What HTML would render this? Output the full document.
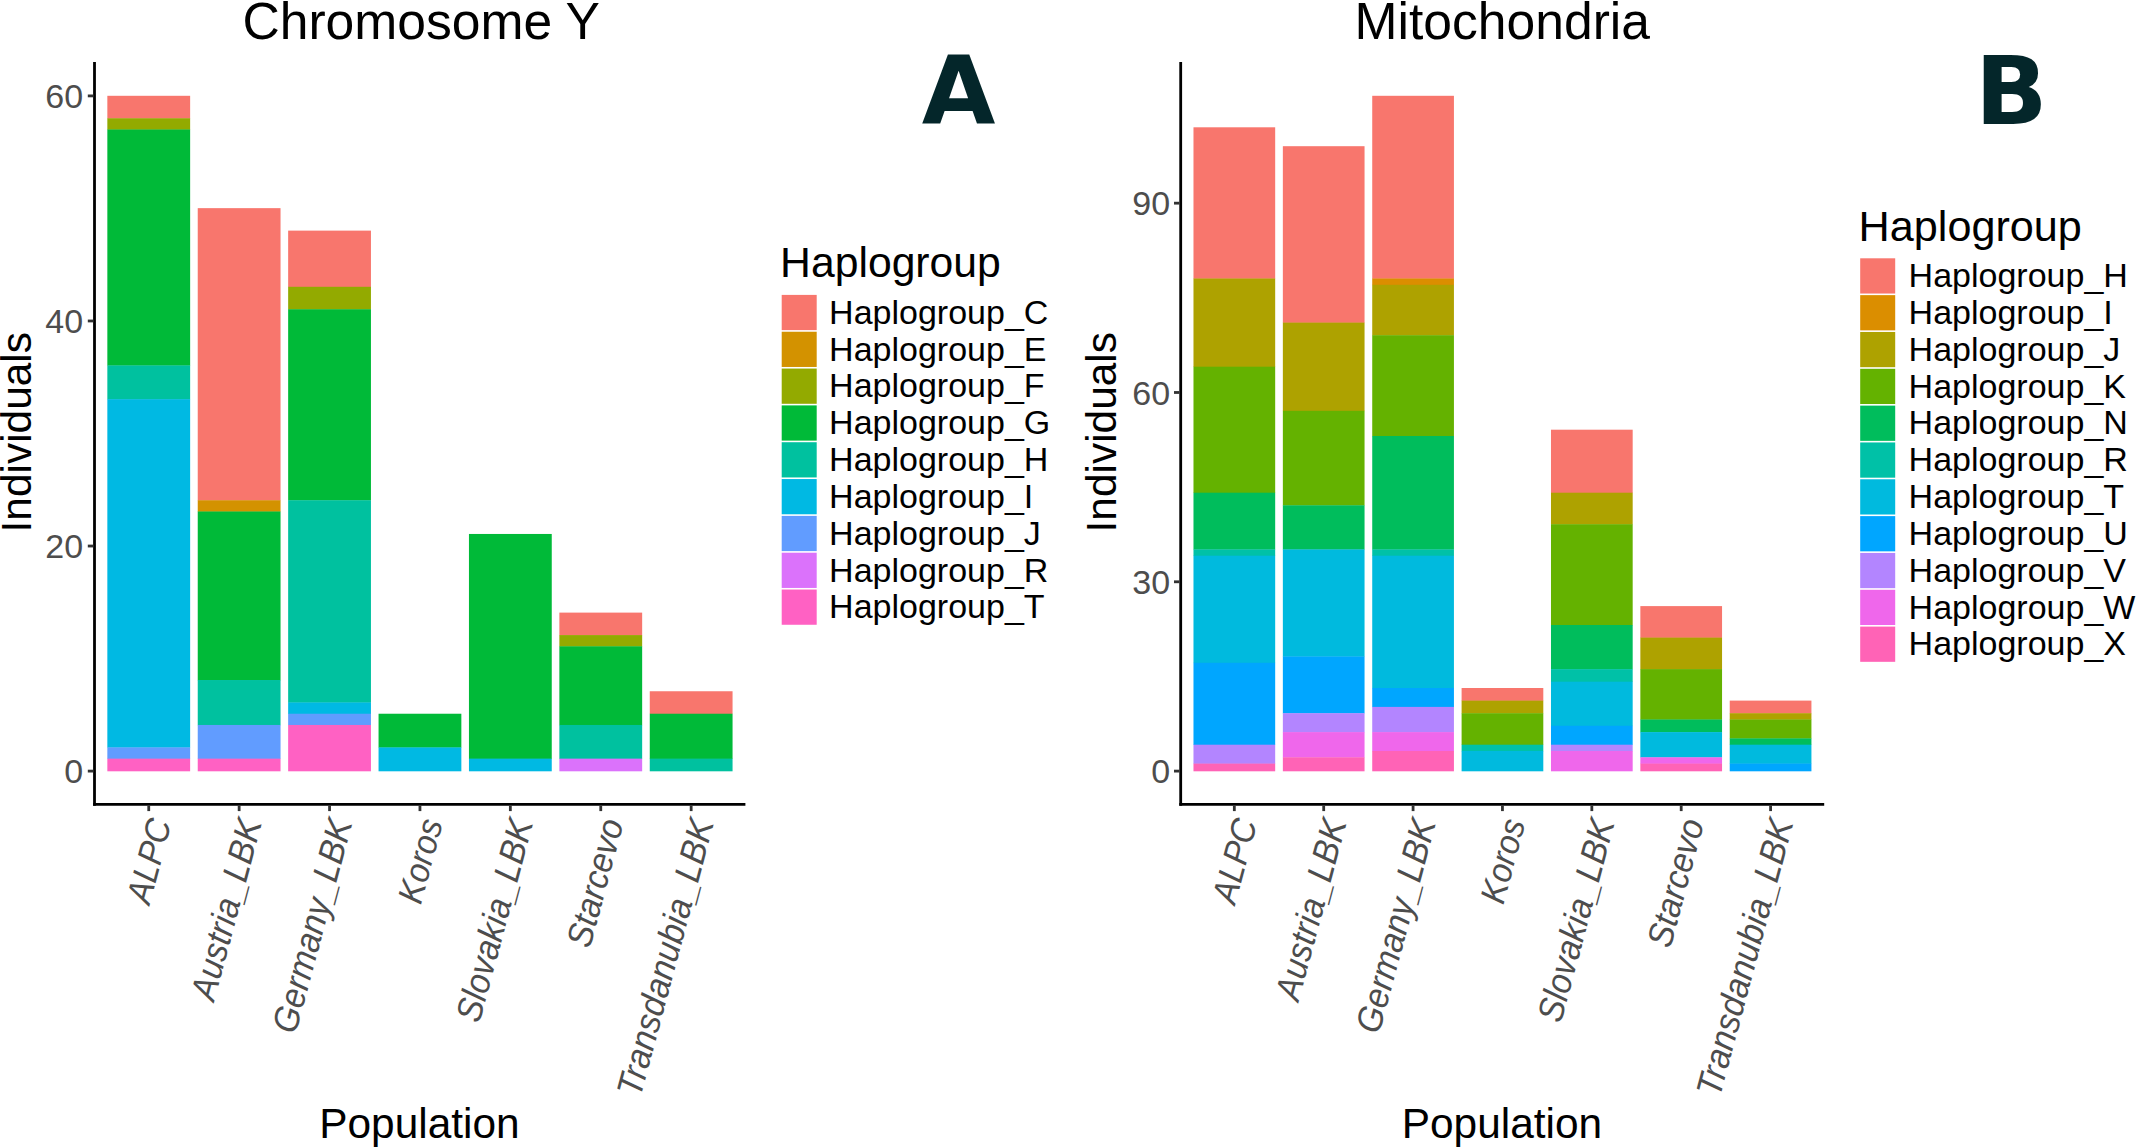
<!DOCTYPE html>
<html lang="en">
<head>
<meta charset="utf-8">
<title>Haplogroup distribution – Chromosome Y and Mitochondria</title>
<style>
html,body{margin:0;padding:0;background:#fff;}
body{width:2136px;height:1147px;overflow:hidden;}
svg{display:block;font-family:"Liberation Sans", "DejaVu Sans", sans-serif;}
</style>
</head>
<body>
<svg width="2136" height="1147" viewBox="0 0 2136 1147">
<rect width="2136" height="1147" fill="#ffffff"/>
<g>
<rect x="107.34" y="95.80" width="82.80" height="22.77" fill="#F8766D"/>
<rect x="107.34" y="118.27" width="82.80" height="11.54" fill="#93AA00"/>
<rect x="107.34" y="129.50" width="82.80" height="236.24" fill="#00BA38"/>
<rect x="107.34" y="365.44" width="82.80" height="34.00" fill="#00C19F"/>
<rect x="107.34" y="399.14" width="82.80" height="348.59" fill="#00B9E3"/>
<rect x="107.34" y="747.43" width="82.80" height="11.54" fill="#619CFF"/>
<rect x="107.34" y="758.66" width="82.80" height="12.64" fill="#FF61C3"/>
<rect x="197.74" y="208.15" width="82.80" height="292.41" fill="#F8766D"/>
<rect x="197.74" y="500.26" width="82.80" height="11.54" fill="#D39200"/>
<rect x="197.74" y="511.49" width="82.80" height="168.83" fill="#00BA38"/>
<rect x="197.74" y="680.02" width="82.80" height="45.24" fill="#00C19F"/>
<rect x="197.74" y="724.96" width="82.80" height="34.01" fill="#619CFF"/>
<rect x="197.74" y="758.66" width="82.80" height="12.64" fill="#FF61C3"/>
<rect x="288.15" y="230.62" width="82.80" height="56.48" fill="#F8766D"/>
<rect x="288.15" y="286.79" width="82.80" height="22.77" fill="#93AA00"/>
<rect x="288.15" y="309.26" width="82.80" height="191.30" fill="#00BA38"/>
<rect x="288.15" y="500.26" width="82.80" height="202.53" fill="#00C19F"/>
<rect x="288.15" y="702.49" width="82.80" height="11.54" fill="#00B9E3"/>
<rect x="288.15" y="713.73" width="82.80" height="11.53" fill="#619CFF"/>
<rect x="288.15" y="724.96" width="82.80" height="46.34" fill="#FF61C3"/>
<rect x="378.55" y="713.73" width="82.80" height="34.00" fill="#00BA38"/>
<rect x="378.55" y="747.43" width="82.80" height="23.87" fill="#00B9E3"/>
<rect x="468.95" y="533.96" width="82.80" height="225.00" fill="#00BA38"/>
<rect x="468.95" y="758.66" width="82.80" height="12.64" fill="#00B9E3"/>
<rect x="559.36" y="612.61" width="82.80" height="22.77" fill="#F8766D"/>
<rect x="559.36" y="635.08" width="82.80" height="11.54" fill="#93AA00"/>
<rect x="559.36" y="646.31" width="82.80" height="78.94" fill="#00BA38"/>
<rect x="559.36" y="724.96" width="82.80" height="34.01" fill="#00C19F"/>
<rect x="559.36" y="758.66" width="82.80" height="12.64" fill="#DB72FB"/>
<rect x="649.76" y="691.25" width="82.80" height="22.77" fill="#F8766D"/>
<rect x="649.76" y="713.73" width="82.80" height="45.24" fill="#00BA38"/>
<rect x="649.76" y="758.66" width="82.80" height="12.64" fill="#00C19F"/>
<path d="M94.50 62.10V805.80" stroke="#000" stroke-width="2.8" fill="none"/>
<path d="M93.10 804.40H745.40" stroke="#000" stroke-width="2.8" fill="none"/>
<path d="M87.80 771.10H93.40" stroke="#333333" stroke-width="2.8"/>
<text x="83.20" y="783.27" text-anchor="end" font-size="34.0" fill="#4D4D4D">0</text>
<path d="M87.80 546.03H93.40" stroke="#333333" stroke-width="2.8"/>
<text x="83.20" y="558.21" text-anchor="end" font-size="34.0" fill="#4D4D4D">20</text>
<path d="M87.80 320.97H93.40" stroke="#333333" stroke-width="2.8"/>
<text x="83.20" y="333.14" text-anchor="end" font-size="34.0" fill="#4D4D4D">40</text>
<path d="M87.80 95.90H93.40" stroke="#333333" stroke-width="2.8"/>
<text x="83.20" y="108.07" text-anchor="end" font-size="34.0" fill="#4D4D4D">60</text>
<path d="M148.74 805.50V811.10" stroke="#333333" stroke-width="2.8"/>
<text transform="translate(148.34,816.30) rotate(-75) scale(1,1.07)" x="0" y="22.60" text-anchor="end" font-size="32.85" font-style="italic" fill="#4D4D4D">ALPC</text>
<path d="M239.14 805.50V811.10" stroke="#333333" stroke-width="2.8"/>
<text transform="translate(238.74,816.30) rotate(-75) scale(1,1.07)" x="0" y="22.60" text-anchor="end" font-size="33.46" font-style="italic" fill="#4D4D4D">Austria_LBK</text>
<path d="M329.55 805.50V811.10" stroke="#333333" stroke-width="2.8"/>
<text transform="translate(329.15,816.30) rotate(-75) scale(1,1.07)" x="0" y="22.60" text-anchor="end" font-size="33.54" font-style="italic" fill="#4D4D4D">Germany_LBK</text>
<path d="M419.95 805.50V811.10" stroke="#333333" stroke-width="2.8"/>
<text transform="translate(419.55,816.30) rotate(-75) scale(1,1.07)" x="0" y="22.60" text-anchor="end" font-size="32.85" font-style="italic" fill="#4D4D4D">Koros</text>
<path d="M510.35 805.50V811.10" stroke="#333333" stroke-width="2.8"/>
<text transform="translate(509.95,816.30) rotate(-75) scale(1,1.07)" x="0" y="22.60" text-anchor="end" font-size="33.52" font-style="italic" fill="#4D4D4D">Slovakia_LBK</text>
<path d="M600.76 805.50V811.10" stroke="#333333" stroke-width="2.8"/>
<text transform="translate(600.36,816.30) rotate(-75) scale(1,1.07)" x="0" y="22.60" text-anchor="end" font-size="33.24" font-style="italic" fill="#4D4D4D">Starcevo</text>
<path d="M691.16 805.50V811.10" stroke="#333333" stroke-width="2.8"/>
<text transform="translate(690.76,816.30) rotate(-75) scale(1,1.07)" x="0" y="22.60" text-anchor="end" font-size="33.65" font-style="italic" fill="#4D4D4D">Transdanubia_LBK</text>
<text x="421.20" y="38.70" text-anchor="middle" font-size="51.6" fill="#000">Chromosome Y</text>
<text x="419.45" y="1137.8" text-anchor="middle" font-size="42.4" fill="#000">Population</text>
<text transform="translate(30.60,432.25) rotate(-90)" text-anchor="middle" font-size="42.4" fill="#000">Individuals</text>
<text x="780.10" y="277.00" font-size="42.7" fill="#000">Haplogroup</text>
<rect x="781.70" y="294.90" width="35.0" height="35.23" fill="#F8766D"/>
<text x="829.10" y="323.70" font-size="34.0" fill="#000">Haplogroup_C</text>
<rect x="781.70" y="331.73" width="35.0" height="35.23" fill="#D39200"/>
<text x="829.10" y="360.53" font-size="34.0" fill="#000">Haplogroup_E</text>
<rect x="781.70" y="368.56" width="35.0" height="35.23" fill="#93AA00"/>
<text x="829.10" y="397.36" font-size="34.0" fill="#000">Haplogroup_F</text>
<rect x="781.70" y="405.39" width="35.0" height="35.23" fill="#00BA38"/>
<text x="829.10" y="434.19" font-size="34.0" fill="#000">Haplogroup_G</text>
<rect x="781.70" y="442.22" width="35.0" height="35.23" fill="#00C19F"/>
<text x="829.10" y="471.02" font-size="34.0" fill="#000">Haplogroup_H</text>
<rect x="781.70" y="479.05" width="35.0" height="35.23" fill="#00B9E3"/>
<text x="829.10" y="507.85" font-size="34.0" fill="#000">Haplogroup_I</text>
<rect x="781.70" y="515.88" width="35.0" height="35.23" fill="#619CFF"/>
<text x="829.10" y="544.68" font-size="34.0" fill="#000">Haplogroup_J</text>
<rect x="781.70" y="552.71" width="35.0" height="35.23" fill="#DB72FB"/>
<text x="829.10" y="581.51" font-size="34.0" fill="#000">Haplogroup_R</text>
<rect x="781.70" y="589.54" width="35.0" height="35.23" fill="#FF61C3"/>
<text x="829.10" y="618.34" font-size="34.0" fill="#000">Haplogroup_T</text>
</g>
<g>
<rect x="1193.48" y="127.30" width="81.70" height="151.50" fill="#F8766D"/>
<rect x="1193.48" y="278.50" width="81.70" height="88.50" fill="#AEA200"/>
<rect x="1193.48" y="366.70" width="81.70" height="126.30" fill="#64B200"/>
<rect x="1193.48" y="492.70" width="81.70" height="57.00" fill="#00BD5C"/>
<rect x="1193.48" y="549.40" width="81.70" height="6.60" fill="#00C1A7"/>
<rect x="1193.48" y="555.70" width="81.70" height="107.40" fill="#00BADE"/>
<rect x="1193.48" y="662.80" width="81.70" height="82.20" fill="#00A6FF"/>
<rect x="1193.48" y="744.70" width="81.70" height="19.20" fill="#B385FF"/>
<rect x="1193.48" y="763.60" width="81.70" height="7.70" fill="#FF63B6"/>
<rect x="1282.85" y="146.20" width="81.70" height="176.70" fill="#F8766D"/>
<rect x="1282.85" y="322.60" width="81.70" height="88.50" fill="#AEA200"/>
<rect x="1282.85" y="410.80" width="81.70" height="94.80" fill="#64B200"/>
<rect x="1282.85" y="505.30" width="81.70" height="44.40" fill="#00BD5C"/>
<rect x="1282.85" y="549.40" width="81.70" height="107.40" fill="#00BADE"/>
<rect x="1282.85" y="656.50" width="81.70" height="57.00" fill="#00A6FF"/>
<rect x="1282.85" y="713.20" width="81.70" height="19.20" fill="#B385FF"/>
<rect x="1282.85" y="732.10" width="81.70" height="25.50" fill="#EF67EB"/>
<rect x="1282.85" y="757.30" width="81.70" height="14.00" fill="#FF63B6"/>
<rect x="1372.23" y="95.80" width="81.70" height="183.00" fill="#F8766D"/>
<rect x="1372.23" y="278.50" width="81.70" height="6.60" fill="#DB8E00"/>
<rect x="1372.23" y="284.80" width="81.70" height="50.70" fill="#AEA200"/>
<rect x="1372.23" y="335.20" width="81.70" height="101.10" fill="#64B200"/>
<rect x="1372.23" y="436.00" width="81.70" height="113.70" fill="#00BD5C"/>
<rect x="1372.23" y="549.40" width="81.70" height="6.60" fill="#00C1A7"/>
<rect x="1372.23" y="555.70" width="81.70" height="132.60" fill="#00BADE"/>
<rect x="1372.23" y="688.00" width="81.70" height="19.20" fill="#00A6FF"/>
<rect x="1372.23" y="706.90" width="81.70" height="25.50" fill="#B385FF"/>
<rect x="1372.23" y="732.10" width="81.70" height="19.20" fill="#EF67EB"/>
<rect x="1372.23" y="751.00" width="81.70" height="20.30" fill="#FF63B6"/>
<rect x="1461.60" y="688.00" width="81.70" height="12.90" fill="#F8766D"/>
<rect x="1461.60" y="700.60" width="81.70" height="12.90" fill="#AEA200"/>
<rect x="1461.60" y="713.20" width="81.70" height="31.80" fill="#64B200"/>
<rect x="1461.60" y="744.70" width="81.70" height="6.60" fill="#00C1A7"/>
<rect x="1461.60" y="751.00" width="81.70" height="20.30" fill="#00BADE"/>
<rect x="1550.98" y="429.70" width="81.70" height="63.30" fill="#F8766D"/>
<rect x="1550.98" y="492.70" width="81.70" height="31.80" fill="#AEA200"/>
<rect x="1550.98" y="524.20" width="81.70" height="101.10" fill="#64B200"/>
<rect x="1550.98" y="625.00" width="81.70" height="44.40" fill="#00BD5C"/>
<rect x="1550.98" y="669.10" width="81.70" height="12.90" fill="#00C1A7"/>
<rect x="1550.98" y="681.70" width="81.70" height="44.40" fill="#00BADE"/>
<rect x="1550.98" y="725.80" width="81.70" height="19.20" fill="#00A6FF"/>
<rect x="1550.98" y="744.70" width="81.70" height="6.60" fill="#B385FF"/>
<rect x="1550.98" y="751.00" width="81.70" height="20.30" fill="#EF67EB"/>
<rect x="1640.35" y="606.10" width="81.70" height="31.80" fill="#F8766D"/>
<rect x="1640.35" y="637.60" width="81.70" height="31.80" fill="#AEA200"/>
<rect x="1640.35" y="669.10" width="81.70" height="50.70" fill="#64B200"/>
<rect x="1640.35" y="719.50" width="81.70" height="12.90" fill="#00BD5C"/>
<rect x="1640.35" y="732.10" width="81.70" height="25.50" fill="#00BADE"/>
<rect x="1640.35" y="757.30" width="81.70" height="6.60" fill="#EF67EB"/>
<rect x="1640.35" y="763.60" width="81.70" height="7.70" fill="#FF63B6"/>
<rect x="1729.73" y="700.60" width="81.70" height="12.90" fill="#F8766D"/>
<rect x="1729.73" y="713.20" width="81.70" height="6.60" fill="#AEA200"/>
<rect x="1729.73" y="719.50" width="81.70" height="19.20" fill="#64B200"/>
<rect x="1729.73" y="738.40" width="81.70" height="6.60" fill="#00BD5C"/>
<rect x="1729.73" y="744.70" width="81.70" height="19.20" fill="#00BADE"/>
<rect x="1729.73" y="763.60" width="81.70" height="7.70" fill="#00A6FF"/>
<path d="M1180.70 62.10V805.80" stroke="#000" stroke-width="2.8" fill="none"/>
<path d="M1179.30 804.40H1824.20" stroke="#000" stroke-width="2.8" fill="none"/>
<path d="M1174.00 771.10H1179.60" stroke="#333333" stroke-width="2.8"/>
<text x="1170.20" y="783.27" text-anchor="end" font-size="34.0" fill="#4D4D4D">0</text>
<path d="M1174.00 581.79H1179.60" stroke="#333333" stroke-width="2.8"/>
<text x="1170.20" y="593.96" text-anchor="end" font-size="34.0" fill="#4D4D4D">30</text>
<path d="M1174.00 392.48H1179.60" stroke="#333333" stroke-width="2.8"/>
<text x="1170.20" y="404.66" text-anchor="end" font-size="34.0" fill="#4D4D4D">60</text>
<path d="M1174.00 203.17H1179.60" stroke="#333333" stroke-width="2.8"/>
<text x="1170.20" y="215.35" text-anchor="end" font-size="34.0" fill="#4D4D4D">90</text>
<path d="M1234.33 805.50V811.10" stroke="#333333" stroke-width="2.8"/>
<text transform="translate(1233.92,816.30) rotate(-75) scale(1,1.07)" x="0" y="22.60" text-anchor="end" font-size="32.85" font-style="italic" fill="#4D4D4D">ALPC</text>
<path d="M1323.70 805.50V811.10" stroke="#333333" stroke-width="2.8"/>
<text transform="translate(1323.30,816.30) rotate(-75) scale(1,1.07)" x="0" y="22.60" text-anchor="end" font-size="33.46" font-style="italic" fill="#4D4D4D">Austria_LBK</text>
<path d="M1413.08 805.50V811.10" stroke="#333333" stroke-width="2.8"/>
<text transform="translate(1412.67,816.30) rotate(-75) scale(1,1.07)" x="0" y="22.60" text-anchor="end" font-size="33.54" font-style="italic" fill="#4D4D4D">Germany_LBK</text>
<path d="M1502.45 805.50V811.10" stroke="#333333" stroke-width="2.8"/>
<text transform="translate(1502.05,816.30) rotate(-75) scale(1,1.07)" x="0" y="22.60" text-anchor="end" font-size="32.85" font-style="italic" fill="#4D4D4D">Koros</text>
<path d="M1591.83 805.50V811.10" stroke="#333333" stroke-width="2.8"/>
<text transform="translate(1591.42,816.30) rotate(-75) scale(1,1.07)" x="0" y="22.60" text-anchor="end" font-size="33.52" font-style="italic" fill="#4D4D4D">Slovakia_LBK</text>
<path d="M1681.20 805.50V811.10" stroke="#333333" stroke-width="2.8"/>
<text transform="translate(1680.80,816.30) rotate(-75) scale(1,1.07)" x="0" y="22.60" text-anchor="end" font-size="33.24" font-style="italic" fill="#4D4D4D">Starcevo</text>
<path d="M1770.58 805.50V811.10" stroke="#333333" stroke-width="2.8"/>
<text transform="translate(1770.17,816.30) rotate(-75) scale(1,1.07)" x="0" y="22.60" text-anchor="end" font-size="33.65" font-style="italic" fill="#4D4D4D">Transdanubia_LBK</text>
<text x="1502.30" y="38.70" text-anchor="middle" font-size="51.6" fill="#000">Mitochondria</text>
<text x="1501.95" y="1137.8" text-anchor="middle" font-size="42.4" fill="#000">Population</text>
<text transform="translate(1116.20,432.25) rotate(-90)" text-anchor="middle" font-size="42.4" fill="#000">Individuals</text>
<text x="1858.60" y="240.80" font-size="43.2" fill="#000">Haplogroup</text>
<rect x="1860.20" y="258.30" width="35.0" height="35.23" fill="#F8766D"/>
<text x="1908.60" y="287.10" font-size="34.0" fill="#000">Haplogroup_H</text>
<rect x="1860.20" y="295.13" width="35.0" height="35.23" fill="#DB8E00"/>
<text x="1908.60" y="323.93" font-size="34.0" fill="#000">Haplogroup_I</text>
<rect x="1860.20" y="331.96" width="35.0" height="35.23" fill="#AEA200"/>
<text x="1908.60" y="360.76" font-size="34.0" fill="#000">Haplogroup_J</text>
<rect x="1860.20" y="368.79" width="35.0" height="35.23" fill="#64B200"/>
<text x="1908.60" y="397.59" font-size="34.0" fill="#000">Haplogroup_K</text>
<rect x="1860.20" y="405.62" width="35.0" height="35.23" fill="#00BD5C"/>
<text x="1908.60" y="434.42" font-size="34.0" fill="#000">Haplogroup_N</text>
<rect x="1860.20" y="442.45" width="35.0" height="35.23" fill="#00C1A7"/>
<text x="1908.60" y="471.25" font-size="34.0" fill="#000">Haplogroup_R</text>
<rect x="1860.20" y="479.28" width="35.0" height="35.23" fill="#00BADE"/>
<text x="1908.60" y="508.08" font-size="34.0" fill="#000">Haplogroup_T</text>
<rect x="1860.20" y="516.11" width="35.0" height="35.23" fill="#00A6FF"/>
<text x="1908.60" y="544.91" font-size="34.0" fill="#000">Haplogroup_U</text>
<rect x="1860.20" y="552.94" width="35.0" height="35.23" fill="#B385FF"/>
<text x="1908.60" y="581.74" font-size="34.0" fill="#000">Haplogroup_V</text>
<rect x="1860.20" y="589.77" width="35.0" height="35.23" fill="#EF67EB"/>
<text x="1908.60" y="618.57" font-size="34.0" fill="#000">Haplogroup_W</text>
<rect x="1860.20" y="626.60" width="35.0" height="35.23" fill="#FF63B6"/>
<text x="1908.60" y="655.40" font-size="34.0" fill="#000">Haplogroup_X</text>
</g>
<text x="958.7" y="123.7" text-anchor="middle" font-family="'DejaVu Sans', 'Liberation Sans', sans-serif" font-weight="bold" font-size="95.2" fill="#04262A">A</text>
<text x="2011.4" y="123.7" text-anchor="middle" font-family="'DejaVu Sans', 'Liberation Sans', sans-serif" font-weight="bold" font-size="95.2" fill="#04262A">B</text>
</svg>
</body>
</html>
